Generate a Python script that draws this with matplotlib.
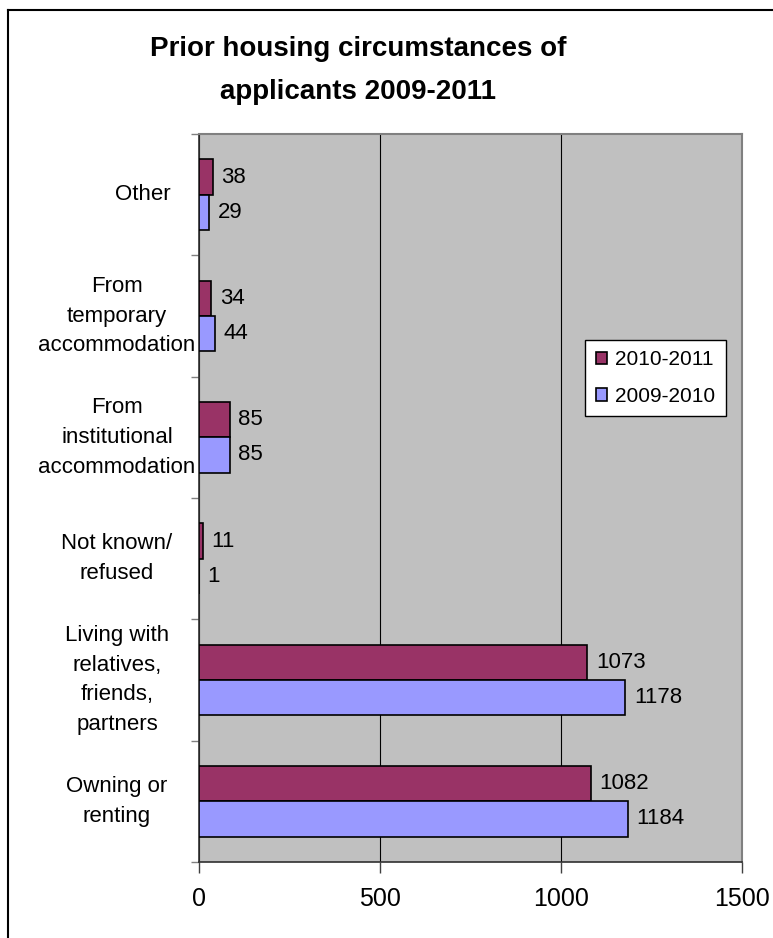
import numpy as np
import matplotlib.pyplot as plt
from matplotlib.lines import Line2D

plt.rcParams['font.family'] = ['Liberation Sans', 'DejaVu Sans']

# categories listed bottom to top
categories = ["Owning or\nrenting",
              "Living with\nrelatives,\nfriends,\npartners",
              "Not known/\nrefused",
              "From\ninstitutional\naccommodation",
              "From\ntemporary\naccommodation",
              "Other"]
vals_2010_2011 = [1082, 1073, 11, 85, 34, 38]
vals_2009_2010 = [1184, 1178, 1, 85, 44, 29]
x_ticks = [0, 500, 1000, 1500]

maroon = "#993366"
lilac = "#9999FF"

fig = plt.figure(figsize=(7.73, 9.38), dpi=100)
ax = fig.add_axes([199 / 773, 1 - 862 / 938, 543 / 773, 728 / 938])
ax.set_facecolor("#C0C0C0")

y = np.arange(len(categories))
h = 0.29
b1 = ax.barh(y + h / 2, vals_2010_2011, height=h, color=maroon,
             edgecolor="black", linewidth=1.2, label="2010-2011", zorder=3)
b2 = ax.barh(y - h / 2, vals_2009_2010, height=h, color=lilac,
             edgecolor="black", linewidth=1.2, label="2009-2010", zorder=3)

# value labels
for bars in (b1, b2):
    ax.bar_label(bars, padding=6, fontsize=16)

ax.set_xlim(0, 1500)
ax.set_ylim(-0.5, len(categories) - 0.5)
ax.set_xticks(x_ticks)
ax.tick_params(axis="x", length=8, width=1, colors="#404040", labelcolor="black",
               labelsize=18, pad=10)
ax.grid(axis="x", color="black", linewidth=0.8, zorder=1)

# ticks sit between categories, labels drawn separately
ax.set_yticks(np.arange(-0.5, len(categories), 1.0))
ax.set_yticklabels([])
ax.tick_params(axis="y", length=6, width=1, colors="#808080")

for i, lab in enumerate(categories):
    xpos = -0.103 if lab == "Other" else -0.151
    ax.text(xpos, i, lab, transform=ax.get_yaxis_transform(), ha="center",
            va="center", fontsize=16, linespacing=1.55, multialignment="center")

for side in ("top", "right"):
    ax.spines[side].set_color("#808080")
    ax.spines[side].set_linewidth(1.5)
for side in ("left", "bottom"):
    ax.spines[side].set_color("#303030")
    ax.spines[side].set_linewidth(1.2)

ax.legend(loc="center", bbox_to_anchor=(655.5 / 773, 1 - 378 / 938),
          bbox_transform=fig.transFigure, fontsize=15, frameon=True,
          fancybox=False, edgecolor="black", framealpha=1,
          handlelength=0.55, handleheight=0.55, labelspacing=0.85,
          borderpad=0.5, handletextpad=0.4, borderaxespad=0)

fig.text(0.463, 1 - 70.5 / 938, "Prior housing circumstances of\napplicants 2009-2011",
         ha="center", va="center", fontsize=20, fontweight="bold", linespacing=1.85)

# outer frame along the top and left edges
fig.add_artist(Line2D([8 / 773, 8 / 773], [0, 1 - 10 / 938], color="black",
                      linewidth=1.5, transform=fig.transFigure))
fig.add_artist(Line2D([8 / 773, 1], [1 - 10 / 938, 1 - 10 / 938], color="black",
                      linewidth=1.5, transform=fig.transFigure))

plt.savefig("out.png", dpi=100)
